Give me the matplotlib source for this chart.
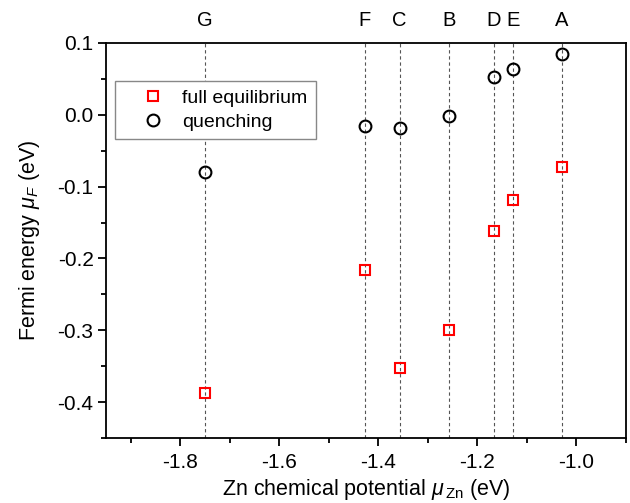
import matplotlib
matplotlib.use("Agg")
import matplotlib.pyplot as plt
from matplotlib.ticker import MultipleLocator

plt.rcParams['font.family'] = ['Liberation Sans', 'DejaVu Sans']
plt.rcParams['mathtext.fontset'] = 'custom'
plt.rcParams['mathtext.rm'] = 'Liberation Sans'
plt.rcParams['mathtext.it'] = 'Liberation Sans:italic'

# data
labels = ["G", "F", "C", "B", "D", "E", "A"]
mu_zn = [-1.75, -1.428, -1.357, -1.257, -1.167, -1.129, -1.029]
ef_full = [-0.387, -0.216, -0.352, -0.300, -0.162, -0.118, -0.072]
ef_quench = [-0.079, -0.015, -0.018, -0.001, 0.052, 0.064, 0.084]

fig = plt.figure(figsize=(6.3, 5.03), dpi=100)
ax = fig.add_axes([106 / 630, 1 - 438 / 503, 520 / 630, 395 / 503])

for x, lab in zip(mu_zn, labels):
	ax.axvline(x, color='#555555', ls=(0, (3, 2.5)), lw=0.8, zorder=1)
	ax.text(x, 1.058, lab, transform=ax.get_xaxis_transform(), ha='center', va='center', fontsize=14.5)

ax.plot(mu_zn, ef_full, 's', ms=7.5, mfc='none', mec='red', mew=1.5, label='full equilibrium', zorder=3)
ax.plot(mu_zn, ef_quench, 'o', ms=8.5, mfc='none', mec='black', mew=1.5, label='quenching', zorder=3)

ax.set_xlim(-1.95, -0.90)
ax.set_ylim(-0.45, 0.1)
ax.xaxis.set_major_locator(MultipleLocator(0.2))
ax.xaxis.set_minor_locator(MultipleLocator(0.1))
ax.yaxis.set_major_locator(MultipleLocator(0.1))
ax.yaxis.set_minor_locator(MultipleLocator(0.05))
ax.xaxis.set_major_formatter(plt.FuncFormatter(lambda v, p: f"{v:.1f}"))
ax.yaxis.set_major_formatter(plt.FuncFormatter(lambda v, p: f"{v:.1f}"))
ax.tick_params(which='both', direction='out', width=1.3, labelsize=15)
ax.tick_params(which='major', length=5.5)
ax.tick_params(which='minor', length=3.5)
ax.tick_params(axis='x', which='major', pad=5)
for s in ax.spines.values():
	s.set_linewidth(1.3)

ax.set_xlabel(r"Zn chemical potential $\mu$$_{\,\mathrm{Zn}}$ (eV)", fontsize=15.5, labelpad=4)
ax.set_ylabel(r"Fermi energy $\mu_F$ (eV)", fontsize=15.5, labelpad=11)

leg = ax.legend(loc='upper left', bbox_to_anchor=(0.017, 0.904), borderaxespad=0, fontsize=14,
				fancybox=False, edgecolor='#888888', framealpha=1, handlelength=3.0,
				handletextpad=0.0, borderpad=0.45, labelspacing=0.3)
leg.get_frame().set_linewidth(1.0)

fig.savefig("out.png", dpi=100)
